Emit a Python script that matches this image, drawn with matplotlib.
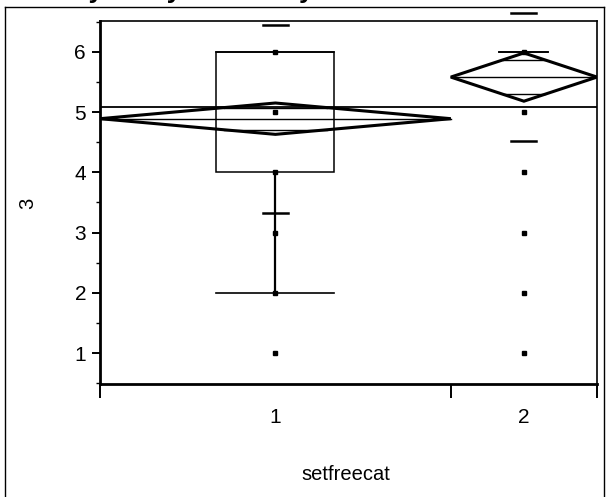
import numpy as np
import matplotlib
matplotlib.use("Agg")
import matplotlib.pyplot as plt
from matplotlib.lines import Line2D
from matplotlib.patches import Polygon, Rectangle

plt.rcParams['font.family'] = ['Liberation Sans', 'DejaVu Sans']

# ---- data ----
categories = ["1", "2"]
group_counts = [132, 55]            # relative group sizes (set the x widths)
group_means = [4.89, 5.58]
mean_ci_half = [0.26, 0.40]         # 95% CI half widths (diamond heights)
group_sd = [1.56, 1.06]             # std dev lines
grand_mean = 5.08
box_q1 = [4.0, 6.0]
box_q3 = [6.0, 6.0]
whisker_low = [2.0, 6.0]
whisker_high = [6.0, 6.0]
point_values = [[1, 2, 3, 4, 5, 6], [1, 2, 3, 4, 5, 6]]
yticks = [1, 2, 3, 4, 5, 6]
title_text = "Oneway Analysis of 3 By setfreecat"
xlabel = "setfreecat"
ylabel = "3"

W, H = 606, 497
fig = plt.figure(figsize=(W / 100, H / 100), dpi=100)
ax = fig.add_axes([100 / W, 1 - 384 / H, 497 / W, 363 / H])

total = sum(group_counts)
lefts = np.concatenate([[0], np.cumsum(group_counts)[:-1]])
centers = lefts + np.array(group_counts) / 2.0
px = total / 497.0  # data units per pixel in x

for i in range(len(categories)):
    n = group_counts[i]
    c = centers[i]
    L, R = lefts[i], lefts[i] + n
    # points
    ax.plot([c] * len(point_values[i]), point_values[i], 's', color='black',
            markersize=3.2, zorder=3, clip_on=False)
    # box plot
    bw = n * 0.336
    if box_q3[i] > box_q1[i]:
        ax.add_patch(Rectangle((c - bw / 2, box_q1[i]), bw, box_q3[i] - box_q1[i],
                               fill=False, lw=1.1, edgecolor='black', zorder=4))
    ax.plot([c - bw / 2, c + bw / 2], [whisker_low[i]] * 2, color='black', lw=1.2, zorder=4)
    ax.plot([c - bw / 2, c + bw / 2], [whisker_high[i]] * 2, color='black', lw=1.2, zorder=4)
    if whisker_low[i] < box_q1[i]:
        ax.plot([c, c], [whisker_low[i], box_q1[i]], color='black', lw=1.6, zorder=4)
    # std dev lines
    sw = 25 * px
    for v in (group_means[i] - group_sd[i], group_means[i] + group_sd[i]):
        ax.plot([c - sw / 2, c + sw / 2], [v, v], color='black', lw=1.8, zorder=5,
                clip_on=False)
    # means diamond
    m, ci = group_means[i], mean_ci_half[i]
    ax.add_patch(Polygon([[L, m], [c, m + ci], [R, m], [c, m - ci]], closed=True,
                         fill=False, lw=2.2, edgecolor='black', zorder=6,
                         joinstyle='miter'))
    ax.plot([L, R], [m, m], color='black', lw=1.0, zorder=6)
    # overlap marks
    h = ci / np.sqrt(2)
    hw = (n / 2) * (1 - h / ci)
    for v in (m - h, m + h):
        ax.plot([c - hw, c + hw], [v, v], color='black', lw=1.0, zorder=6)

ax.axhline(grand_mean, color='black', lw=1.3, zorder=7)

ax.set_xlim(0, total)
ax.set_ylim(0.49, 6.51)

# y axis
ax.set_yticks(yticks)
ax.set_yticklabels([str(t) for t in yticks])
ax.set_yticks(np.arange(0.5, 6.51, 0.5), minor=True)
ax.tick_params(axis='y', which='major', length=6, width=1.4, direction='out',
               labelsize=15, pad=4)
ax.tick_params(axis='y', which='minor', length=3, width=1.0, direction='out')

# x axis: boundary ticks, labels at group centres
ax.set_xticks(list(lefts) + [total])
ax.set_xticklabels([''] * (len(lefts) + 1))
ax.set_xticks(centers, minor=True)
ax.set_xticklabels(categories, minor=True)
ax.tick_params(axis='x', which='major', length=10, width=1.4, direction='out')
ax.tick_params(axis='x', which='minor', length=0, labelsize=15, pad=17)

for s in ['left', 'bottom']:
    ax.spines[s].set_linewidth(2.0)
for s in ['top', 'right']:
    ax.spines[s].set_linewidth(1.2)

# axis titles
fig.text(28 / W, 1 - 203 / H, ylabel, rotation=90, ha='center', va='center',
         fontsize=14.5)
fig.text(345.5 / W, 1 - 480 / H, xlabel, ha='center', va='baseline', fontsize=14.5)

# cut-off title at the very top
fig.text(2 / W, 1 + 2 / H, title_text, ha='left', va='baseline', fontsize=19,
         fontweight='bold')

# outer frame
fig.add_artist(Line2D([5 / W, 5 / W], [0, 1 - 7 / H], color='black', lw=1.0,
                      transform=fig.transFigure))
fig.add_artist(Line2D([5 / W, 604 / W], [1 - 7 / H, 1 - 7 / H], color='black',
                      lw=1.0, transform=fig.transFigure))
fig.add_artist(Line2D([604 / W, 604 / W], [0, 1 - 7 / H], color='black', lw=1.0,
                      transform=fig.transFigure))

fig.savefig("out.png", dpi=100)
